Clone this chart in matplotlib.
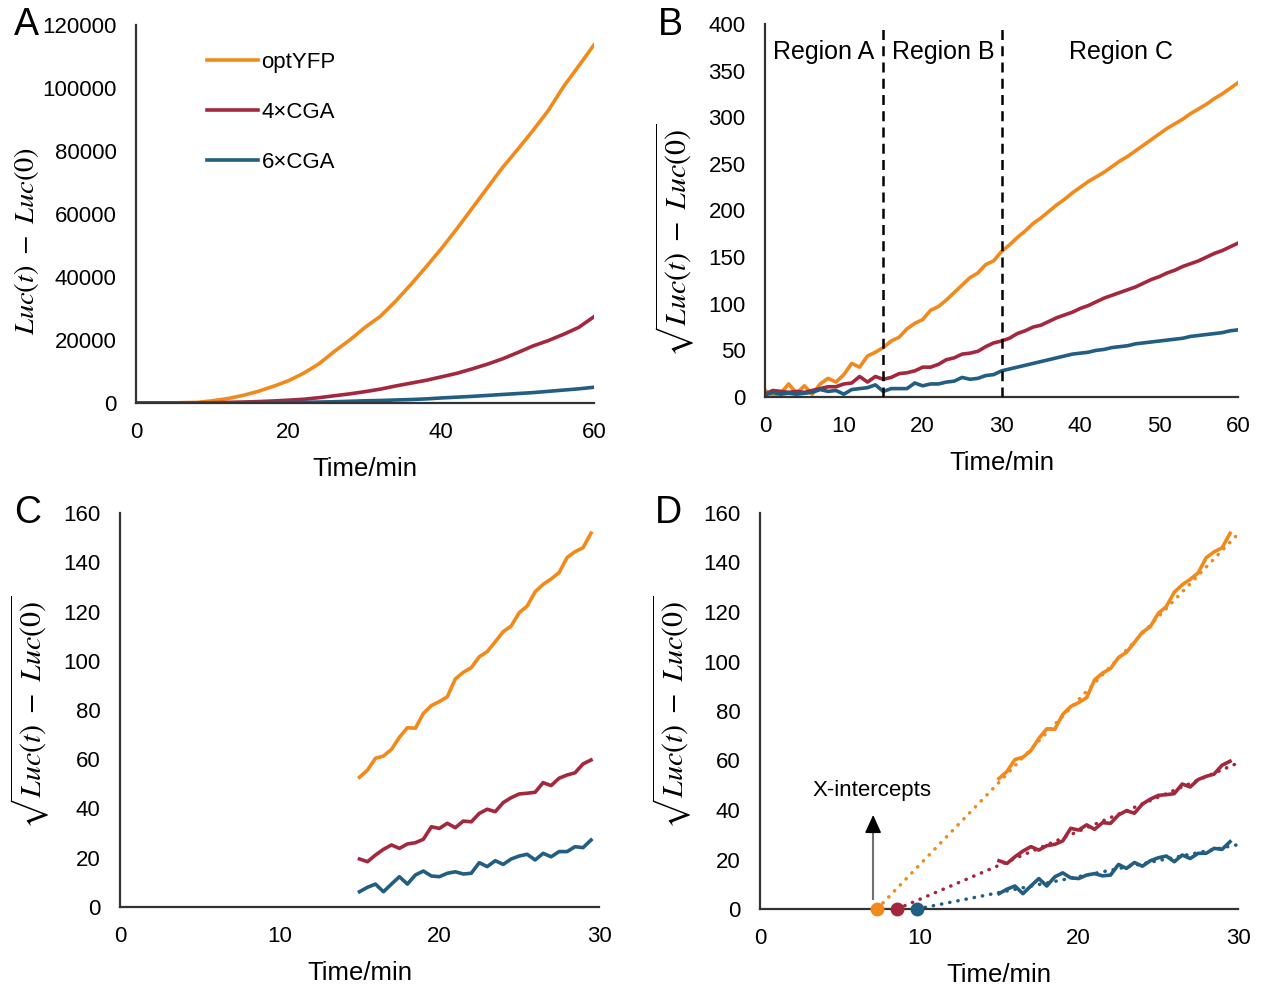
import numpy as np
import matplotlib
matplotlib.use("Agg")
import matplotlib.pyplot as plt

plt.rcParams["font.family"] = ["Liberation Sans", "DejaVu Sans"]
plt.rcParams["mathtext.fontset"] = "stix"

# ==========================================
# DATA
# ==========================================

labels = ["optYFP", "4×CGA", "6×CGA"]
colors = ["#F28A1B", "#A4283D", "#225E82"]

# panel A: Luc(t) - Luc(0), every 2 min
t_a = np.arange(0, 61, 2)
luc_opt = [0, 0, 0, 100, 200, 700, 1400, 2400, 3700, 5300, 7100, 9500, 12500,
           16400, 20000, 24000, 27500, 32300, 37600, 43200, 49000, 55200,
           61700, 68200, 74700, 80500, 86500, 92800, 100400, 107000, 113700]
luc_4cga = [0, 0, 0, 0, 50, 100, 200, 300, 450, 650, 900, 1200, 1700, 2300,
            2900, 3600, 4400, 5400, 6300, 7200, 8300, 9400, 10800, 12300,
            14000, 16000, 18100, 19800, 21800, 24000, 27400]
luc_6cga = [0, 0, 0, 0, 0, 30, 60, 80, 100, 150, 180, 230, 300, 400, 550, 700,
            800, 950, 1100, 1300, 1600, 1850, 2100, 2400, 2700, 3000, 3300,
            3700, 4100, 4500, 5000]

# panel B: sqrt(Luc(t) - Luc(0)), every 1 min
t_b = np.arange(0, 61, 1)
sq_opt = [7, 2, 4, 14, 4, 12, 3, 14, 20, 16, 24, 36, 32, 44, 48, 53,
          60, 64, 73, 79, 83, 93, 97, 104, 112, 120, 128, 133, 142, 146, 156,
          163, 171, 178, 186, 192, 199, 206, 212, 219, 225, 231, 236, 241,
          247, 253, 258, 264, 270, 276, 282, 288, 293, 298, 304, 309, 314,
          320, 325, 331, 337]
sq_4cga = [3, 7, 6, 5, 6, 5, 7, 9, 11, 11, 14, 15, 22, 16, 22, 19,
           21, 25, 26, 28, 32, 32, 35, 40, 42, 46, 47, 49, 54, 58, 60,
           63, 68, 71, 75, 77, 81, 85, 88, 91, 95, 98, 102, 106, 109, 112,
           115, 118, 122, 126, 129, 133, 136, 140, 143, 146, 150, 154, 157,
           161, 165]
sq_6cga = [2, 5, 3, 4, 3, 4, 5, 8, 6, 7, 3, 8, 9, 10, 13, 6,
           9, 9, 9, 15, 12, 14, 14, 16, 17, 21, 19, 20, 23, 24, 28,
           30, 32, 34, 36, 38, 40, 42, 44, 46, 47, 48, 50, 51, 53, 54, 55,
           57, 58, 59, 60, 61, 62, 63, 65, 66, 67, 68, 69, 71, 72]

# panels C/D: region B, every 0.5 min
t_c = np.arange(15, 30, 0.5)
c_opt = [52.7, 55.6, 60.4, 61.3, 64.0, 68.9, 72.8, 72.6, 78.6, 81.8, 83.4,
         85.4, 92.6, 95.3, 97.2, 101.6, 103.7, 107.7, 111.8, 114.1, 119.5,
         122.2, 128.0, 131.0, 133.2, 135.8, 141.9, 144.3, 145.9, 151.8]
c_4cga = [19.5, 18.4, 21.1, 23.4, 25.2, 23.8, 25.6, 26.1, 27.5, 32.6, 31.9,
          34.0, 32.2, 34.9, 34.6, 38.0, 39.7, 38.7, 42.4, 44.4, 45.9, 46.2,
          46.6, 50.5, 49.3, 52.3, 53.6, 54.5, 58.1, 59.7]
c_6cga = [6.2, 8.0, 9.3, 6.2, 9.3, 12.3, 9.3, 13.0, 14.6, 12.6, 12.3, 13.7,
          14.3, 13.4, 13.7, 18.0, 16.4, 18.8, 17.3, 19.5, 20.7, 21.4, 19.1,
          21.8, 20.4, 22.5, 22.5, 24.5, 24.1, 27.2]

# panel D: linear fits (x-intercept, value at 30 min)
x_int = [7.35, 8.6, 9.85]
fit_end = [151.5, 59.0, 26.0]

# ==========================================
# FIGURE
# ==========================================

W, H = 1261, 985
fig = plt.figure(figsize=(W / 100, H / 100), dpi=100)


def box(l, r, b, t):
    return [l / W, 1 - b / H, (r - l) / W, (b - t) / H]


def style(ax, tick_fs):
    for s in ["top", "right"]:
        ax.spines[s].set_visible(False)
    for s in ["left", "bottom"]:
        ax.spines[s].set_color("#333333")
        ax.spines[s].set_linewidth(1.6)
    ax.tick_params(length=0, labelsize=tick_fs, pad=14)
    ax.set_xlabel("Time/min", fontsize=18.5, labelpad=10)


axA = fig.add_axes(box(136, 594, 403, 25))
axB = fig.add_axes(box(765, 1238, 397, 24))
axC = fig.add_axes(box(120, 599, 907, 513))
axD = fig.add_axes(box(760, 1238, 909, 513))

# ---- A ----
for y, c, lab in zip([luc_opt, luc_4cga, luc_6cga], colors, labels):
    axA.plot(t_a, y, color=c, lw=2.6, label=lab)
axA.set_xlim(0, 60)
axA.set_ylim(0, 120000)
axA.set_xticks([0, 20, 40, 60])
axA.set_yticks(np.arange(0, 120001, 20000))
style(axA, 16)
axA.legend(frameon=False, loc="upper left", bbox_to_anchor=(0.155, 0.928),
           borderaxespad=0, borderpad=0, fontsize=16, handlelength=2.3,
           handletextpad=0.15, labelspacing=1.3)

# ---- B ----
for y, c in zip([sq_opt, sq_4cga, sq_6cga], colors):
    axB.plot(t_b, y, color=c, lw=2.6)
for xv in [15, 30]:
    axB.axvline(xv, color="black", lw=1.8, ls=(0, (4, 2.5)), zorder=3)
axB.set_xlim(0, 60)
axB.set_ylim(0, 400)
axB.set_xticks(np.arange(0, 61, 10))
axB.set_yticks(np.arange(0, 401, 50))
style(axB, 16)
for xv, txt in zip([7.5, 22.6, 45.2], ["Region A", "Region B", "Region C"]):
    axB.text(xv, 370, txt, ha="center", va="center", fontsize=18)

# ---- C ----
for y, c in zip([c_opt, c_4cga, c_6cga], colors):
    axC.plot(t_c, y, color=c, lw=2.6)
axC.set_xlim(0, 30)
axC.set_ylim(0, 160)
axC.set_xticks([0, 10, 20, 30])
axC.set_yticks(np.arange(0, 161, 20))
style(axC, 16)

# ---- D ----
for y, c, xi, ye in zip([c_opt, c_4cga, c_6cga], colors, x_int, fit_end):
    axD.plot(t_c, y, color=c, lw=2.6)
    axD.plot([xi, 30], [0, ye], color=c, lw=2.5, ls=(0, (0.1, 2.3)),
             dash_capstyle="round")
    axD.plot(xi, 0, "o", color=c, ms=9, clip_on=False, zorder=5)
axD.plot([7.1, 7.1], [4, 32], color="#707070", lw=1.5)
axD.annotate("", xy=(7.1, 38), xytext=(7.1, 31),
             arrowprops=dict(arrowstyle="-|>,head_length=1.1,head_width=0.5",
                             color="black", lw=1.2, shrinkA=0, shrinkB=0))
axD.text(7.0, 48, "X-intercepts", ha="center", va="center", fontsize=16)
axD.set_xlim(0, 30)
axD.set_ylim(0, 160)
axD.set_xticks([0, 10, 20, 30])
axD.set_yticks(np.arange(0, 161, 20))
style(axD, 16)

# ---- y labels and panel letters ----
sq_lab = r"$\sqrt{Luc(t)\ -\ Luc(0)}$"
fig.text(27 / W, 1 - 241 / H, r"$Luc(t)\ -\ Luc(0)$", rotation=90,
         ha="center", va="center", fontsize=20.5)
fig.text(675 / W, 1 - 240 / H, sq_lab, rotation=90, ha="center",
         va="center", fontsize=21.5)
fig.text(30 / W, 1 - 712 / H, sq_lab, rotation=90, ha="center",
         va="center", fontsize=21.5)
fig.text(672 / W, 1 - 712 / H, sq_lab, rotation=90, ha="center",
         va="center", fontsize=21.5)

for x, y, letter in [(26, 25, "A"), (670, 25, "B"), (28, 513, "C"),
                     (668, 513, "D")]:
    fig.text(x / W, 1 - y / H, letter, ha="center", va="center", fontsize=27)

plt.savefig("out.png", dpi=100)
